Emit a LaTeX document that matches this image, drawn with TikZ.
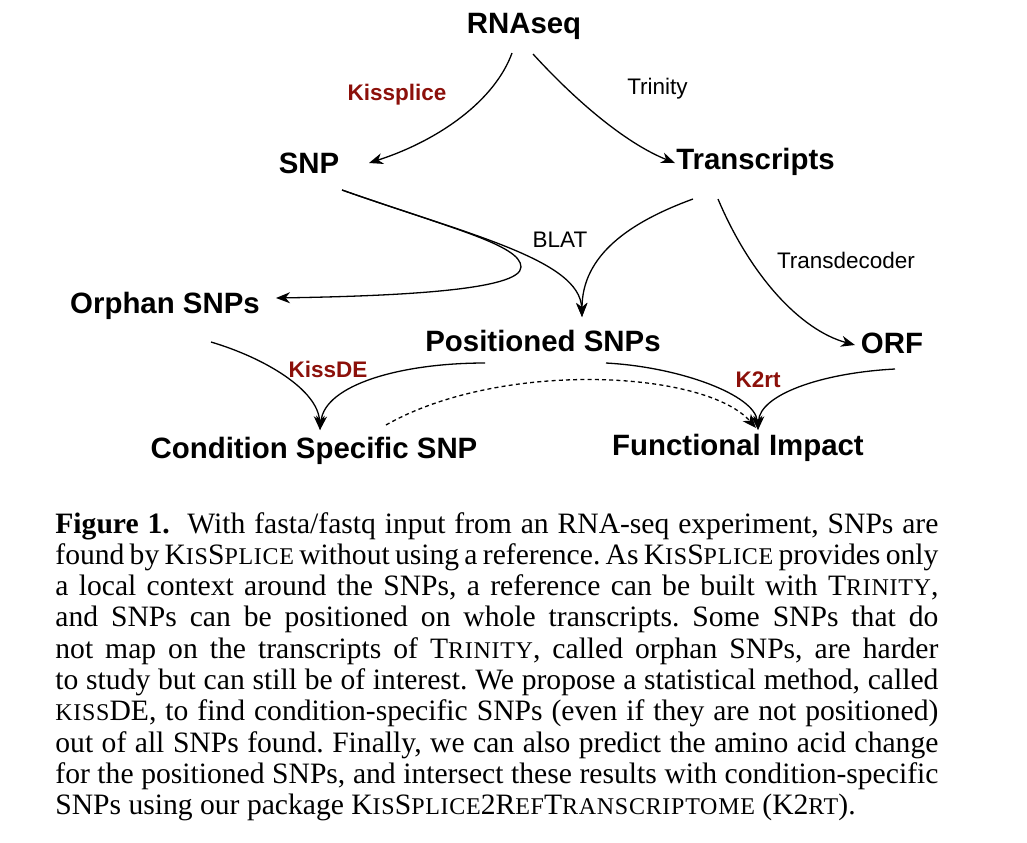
\documentclass[tikz,border=0pt]{standalone}
\usepackage{fontspec}
\setmainfont{Liberation Serif}
\newfontfamily\dsf{Liberation Sans}
\newfontfamily\scf[LetterSpace=3]{Liberation Serif}
\usetikzlibrary{arrows.meta}
\definecolor{kred}{RGB}{140,16,10}
\newcommand\smc[1]{{\scf\fontsize{12pt}{12pt}\selectfont #1}}
\newcommand\capline[1]{\hbox to 441.5pt{#1}}
\begin{document}
\begin{tikzpicture}[x=0.5pt,y=-0.5pt,
  nd/.style={inner sep=0pt, anchor=base, font=\dsf\bfseries\fontsize{14.7pt}{17pt}\selectfont},
  lb/.style={inner sep=0pt, anchor=base, font=\dsf\fontsize{11.25pt}{13pt}\selectfont},
  lbr/.style={inner sep=0pt, anchor=base, text=kred, font=\dsf\bfseries\fontsize{11.25pt}{13pt}\selectfont},
  conn/.style={line width=0.65pt, -{Stealth[length=7pt,width=5.5pt,inset=2.2pt]}},
  dsh/.style={conn, dash pattern=on 2pt off 1.6pt}]
\useasboundingbox (0,0) rectangle (1027,842);
% nodes
\node[nd] (rna)  at (524,33)    {RNAseq};
\node[nd] (snp)  at (309,173)   {SNP};
\node[nd] (tr)   at (755.5,169) {Transcripts};
\node[nd] (orph) at (165,313)   {Orphan SNPs};
\node[nd] (pos)  at (543,351)   {Positioned SNPs};
\node[nd] (orf)  at (892,353)   {ORF};
\node[nd] (cond) at (314,458)   {Condition Specific SNP};
\node[nd] (func) at (738,455)   {Functional Impact};
% labels
\node[lbr] (kiss)   at (397,100) {Kissplice};
\node[lb]  (trin)   at (657.5,94) {Trinity};
\node[lb]  (blat)   at (560,247) {BLAT};
\node[lb]  (transd) at (846,268) {Transdecoder};
\node[lbr] (kde)    at (328,377) {KissDE};
\node[lbr] (k2)     at (758,387) {K2rt};
% connectors
\draw[conn] ([shift={(-12,20)}]rna.base) .. controls +(-17,47) and +(71,-23) .. ([shift={(60,-10)}]snp.base);
\draw[conn] ([shift={(9,21)}]rna.base) .. controls +(42,46) and +(-50,-20) .. ([shift={(-80.5,-6)}]tr.base);
\draw[conn] ([shift={(33,17)}]snp.base) .. controls +(128,45) and +(-2,-57) .. ([shift={(39,-34)}]pos.base);
\draw[conn] ([shift={(33,17)}]snp.base) .. controls +(108,38) and +(0,-22) .. (521,267)
                                       .. controls +(0,23) and +(124,-2) .. ([shift={(111,-15)}]orph.base);
\draw[conn] ([shift={(-62.5,30)}]tr.base) .. controls +(-63,23) and +(0,-62) .. ([shift={(39,-34)}]pos.base);
\draw[conn] ([shift={(-37.5,30)}]tr.base) .. controls +(32,76) and +(-55,-15) .. ([shift={(-37,-8)}]orf.base);
\draw[conn] ([shift={(63,12)}]pos.base) .. controls +(74,4) and +(-3,-35) .. ([shift={(20,-25)}]func.base);
\draw[conn] ([shift={(3,16)}]orf.base) .. controls +(-75,4) and +(2,-35) .. ([shift={(20,-25)}]func.base);
\draw[conn] ([shift={(46,29)}]orph.base) .. controls +(54,16) and +(-2,-40) .. ([shift={(6,-28)}]cond.base);
\draw[conn] ([shift={(-58,12)}]pos.base) .. controls +(-85,0) and +(5,-45) .. ([shift={(6,-28)}]cond.base);
\draw[dsh] ([shift={(72,-33)}]cond.base) .. controls +(114,-65) and +(-51,-58) .. ([shift={(18,-27)}]func.base);
% caption
\node[anchor=base west, inner sep=0pt] (cap) at (55,533) {\begin{minipage}[t]{441.5pt}\frenchspacing\fontsize{14.8pt}{15.65pt}\selectfont
\capline{\textbf{Figure 1.}\hspace{0.3em} With fasta/fastq input from an RNA-seq experiment, SNPs are}
\capline{found by K\smc{IS}S\smc{PLICE} without using a reference. As K\smc{IS}S\smc{PLICE} provides only}
\capline{a local context around the SNPs, a reference can be built with T\smc{RINITY},}
\capline{and SNPs can be positioned on whole transcripts. Some SNPs that do}
\capline{not map on the transcripts of T\smc{RINITY}, called orphan SNPs, are harder}
\capline{to study but can still be of interest. We propose a statistical method, called}
\capline{\smc{KISS}DE, to find condition-specific SNPs (even if they are not positioned)}
\capline{out of all SNPs found. Finally, we can also predict the amino acid change}
\capline{for the positioned SNPs, and intersect these results with condition-specific}
\hbox{SNPs using our package K\smc{IS}S\smc{PLICE}2R\smc{EF}T\smc{RANSCRIPTOME} (K2\smc{RT}).}
\end{minipage}};
\end{tikzpicture}
\end{document}
